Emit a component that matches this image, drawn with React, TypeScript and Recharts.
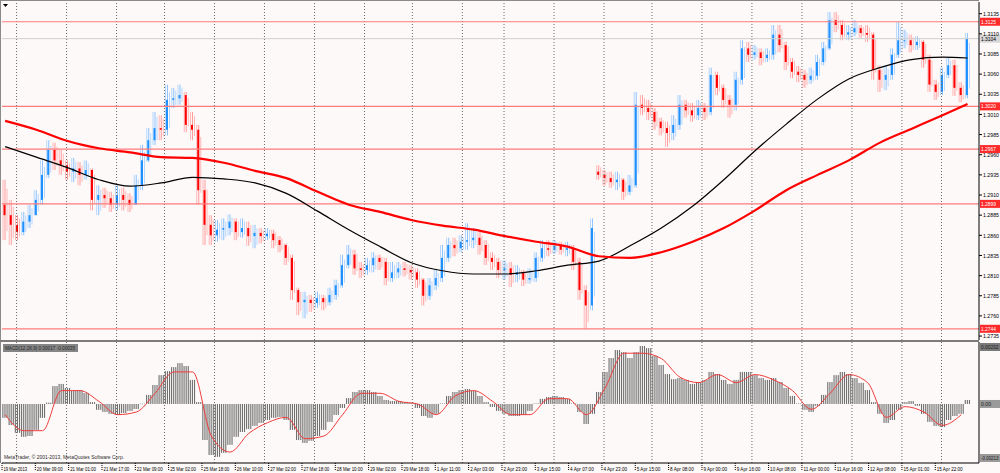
import React from 'react';
import { ComposedChart, Bar, Line, XAxis, YAxis, ReferenceLine } from 'recharts';

const PLOT_RIGHT = 979;
const BG = '#fdf9f8';
const FONT = '"Liberation Sans", Arial, sans-serif';

// x-axis labels, one every 16 hourly bars
const xLabels = [
  '19 Mar 2013', '20 Mar 09:00', '21 Mar 01:00', '21 Mar 17:00', '22 Mar 09:00', '25 Mar 02:00',
  '25 Mar 18:00', '26 Mar 10:00', '27 Mar 02:00', '27 Mar 18:00', '28 Mar 10:00', '29 Mar 02:00',
  '29 Mar 18:00', '1 Apr 11:00', '2 Apr 03:00', '2 Apr 23:00', '3 Apr 15:00', '4 Apr 07:00',
  '4 Apr 23:00', '5 Apr 15:00', '8 Apr 08:00', '9 Apr 00:00', '9 Apr 16:00', '10 Apr 08:00',
  '11 Apr 00:00', '11 Apr 16:00', '12 Apr 08:00', '15 Apr 01:00', '15 Apr 22:00',
];

// day separators (hour index)
const gridHours = [7, 31, 55, 78, 102, 126, 150, 174, 197, 221, 241, 265, 289, 312, 336, 360, 384, 408, 432, 451];

const priceTicks = [
  1.2735, 1.276, 1.2785, 1.281, 1.2835, 1.286, 1.2885, 1.291, 1.2935,
  1.296, 1.2985, 1.301, 1.3035, 1.306, 1.3085, 1.311, 1.3135,
];
const levels = [1.3125, 1.302, 1.2967, 1.2899, 1.2744];
const bidPrice = 1.3104;

// candles (each one stands for 3 hourly bars)
const firstOpen = 1.2898;
const gapOpens: Record<number, number> = { 95: 1.2939 };
const closes = [
  1.2885, 1.2873, 1.2864, 1.2877, 1.2885, 1.2904, 1.2935, 1.2966, 1.2953, 1.2947,
  1.2939, 1.2943, 1.2935, 1.2941, 1.2904, 1.2910, 1.2906, 1.2898, 1.2910, 1.2904,
  1.2898, 1.2922, 1.2953, 1.2978, 1.2993, 1.2991, 1.3028, 1.3030, 1.3034, 1.2997,
  1.2991, 1.2916, 1.2873, 1.2860, 1.2867, 1.2869, 1.2877, 1.2864, 1.2869, 1.2859,
  1.2863, 1.2859, 1.2862, 1.2854, 1.2848, 1.2832, 1.2792, 1.2777, 1.2780, 1.2776,
  1.2782, 1.2777, 1.2786, 1.2798, 1.2823, 1.2836, 1.2819, 1.2817, 1.2823, 1.2832,
  1.2827, 1.2807, 1.2814, 1.2819, 1.2817, 1.2814, 1.2805, 1.2785, 1.2798, 1.2807,
  1.2832, 1.2848, 1.2844, 1.2852, 1.2854, 1.2857, 1.2848, 1.2832, 1.2827, 1.2817,
  1.2819, 1.2811, 1.2814, 1.2805, 1.2807, 1.2832, 1.2844, 1.2842, 1.2847, 1.2842,
  1.2844, 1.2827, 1.2792, 1.2773, 1.2869, 1.2935, 1.2931, 1.2926, 1.2929, 1.2914,
  1.2922, 1.3022, 1.3018, 1.3013, 1.3001, 1.2993, 1.2987, 1.2997, 1.3022, 1.3015,
  1.3009, 1.3018, 1.3013, 1.3059, 1.3043, 1.3028, 1.3022, 1.3053, 1.3092, 1.3084,
  1.3087, 1.3080, 1.3084, 1.3109, 1.3096, 1.3075, 1.3063, 1.3059, 1.3053, 1.3058,
  1.3075, 1.3092, 1.3127, 1.3121, 1.3109, 1.3112, 1.3117, 1.3111, 1.3109, 1.3065,
  1.3053, 1.3059, 1.3084, 1.3102, 1.3102, 1.3096, 1.3100, 1.3078, 1.3047, 1.3038,
  1.3059, 1.3071, 1.3043, 1.3034, 1.3104,
];
const highs = [
  1.2929, 1.2904, 1.2885, 1.2889, 1.2898, 1.2916, 1.2953, 1.2978, 1.2975, 1.2966,
  1.2953, 1.2956, 1.2951, 1.2953, 1.2943, 1.2922, 1.2919, 1.2914, 1.2922, 1.2919,
  1.2912, 1.2935, 1.2972, 1.2993, 1.3013, 1.3009, 1.3047, 1.3043, 1.3047, 1.3038,
  1.3013, 1.2997, 1.2929, 1.2885, 1.2879, 1.2881, 1.2886, 1.2881, 1.2881, 1.2877,
  1.2873, 1.2869, 1.2869, 1.2867, 1.2859, 1.2850, 1.2836, 1.2795, 1.2790, 1.2786,
  1.2790, 1.2786, 1.2795, 1.2805, 1.2836, 1.2848, 1.2842, 1.2827, 1.2832, 1.2839,
  1.2836, 1.2832, 1.2827, 1.2827, 1.2827, 1.2823, 1.2819, 1.2807, 1.2807, 1.2817,
  1.2848, 1.2857, 1.2857, 1.2860, 1.2875, 1.2869, 1.2864, 1.2854, 1.2839, 1.2832,
  1.2829, 1.2827, 1.2823, 1.2817, 1.2819, 1.2839, 1.2854, 1.2854, 1.2854, 1.2852,
  1.2852, 1.2848, 1.2832, 1.2798, 1.2881, 1.2947, 1.2941, 1.2939, 1.2939, 1.2931,
  1.2935, 1.3038, 1.3034, 1.3028, 1.3018, 1.3006, 1.3001, 1.3009, 1.3034, 1.3028,
  1.3024, 1.3028, 1.3024, 1.3068, 1.3063, 1.3047, 1.3034, 1.3063, 1.3102, 1.3100,
  1.3096, 1.3092, 1.3092, 1.3121, 1.3121, 1.3100, 1.3080, 1.3070, 1.3065, 1.3068,
  1.3084, 1.3100, 1.3137, 1.3137, 1.3127, 1.3121, 1.3127, 1.3121, 1.3121, 1.3112,
  1.3071, 1.3071, 1.3092, 1.3125, 1.3115, 1.3109, 1.3107, 1.3102, 1.3084, 1.3053,
  1.3068, 1.3080, 1.3078, 1.3050, 1.3111,
];
const lows = [
  1.2854, 1.2848, 1.2854, 1.2860, 1.2869, 1.2885, 1.2898, 1.2931, 1.2941, 1.2935,
  1.2929, 1.2926, 1.2922, 1.2929, 1.2891, 1.2885, 1.2894, 1.2889, 1.2891, 1.2891,
  1.2889, 1.2898, 1.2916, 1.2951, 1.2972, 1.2978, 1.2984, 1.3018, 1.3022, 1.2988,
  1.2978, 1.2898, 1.2848, 1.2848, 1.2852, 1.2854, 1.2860, 1.2854, 1.2857, 1.2847,
  1.2844, 1.2850, 1.2854, 1.2844, 1.2839, 1.2823, 1.2780, 1.2761, 1.2757, 1.2765,
  1.2770, 1.2767, 1.2773, 1.2780, 1.2795, 1.2819, 1.2811, 1.2807, 1.2811, 1.2814,
  1.2817, 1.2798, 1.2802, 1.2807, 1.2809, 1.2805, 1.2795, 1.2773, 1.2780, 1.2792,
  1.2802, 1.2827, 1.2834, 1.2839, 1.2842, 1.2844, 1.2836, 1.2823, 1.2817, 1.2807,
  1.2805, 1.2796, 1.2802, 1.2797, 1.2800, 1.2802, 1.2827, 1.2834, 1.2837, 1.2836,
  1.2834, 1.2817, 1.2780, 1.2744, 1.2767, 1.2929, 1.2922, 1.2919, 1.2916, 1.2904,
  1.2910, 1.2919, 1.3009, 1.3003, 1.2991, 1.2984, 1.2970, 1.2978, 1.2991, 1.3006,
  1.3001, 1.3003, 1.3003, 1.3009, 1.3034, 1.3018, 1.3006, 1.3015, 1.3047, 1.3075,
  1.3078, 1.3071, 1.3075, 1.3078, 1.3087, 1.3065, 1.3055, 1.3050, 1.3043, 1.3048,
  1.3053, 1.3071, 1.3090, 1.3112, 1.3102, 1.3102, 1.3107, 1.3105, 1.3100, 1.3053,
  1.3038, 1.3040, 1.3053, 1.3080, 1.3092, 1.3087, 1.3090, 1.3068, 1.3038, 1.3028,
  1.3034, 1.3055, 1.3033, 1.3025, 1.3030,
];

// moving averages, sampled every 5 candles (last one at the final candle)
const maBlack = [
  1.2970, 1.2957, 1.2944, 1.2929, 1.2921, 1.2925, 1.2932, 1.2930, 1.2925, 1.2912,
  1.2890, 1.2867, 1.2846, 1.2826, 1.2816, 1.2812, 1.2812, 1.2816, 1.2823, 1.2828,
  1.2847, 1.2869, 1.2896, 1.2929, 1.2965, 1.2998, 1.3029, 1.3054, 1.3068, 1.3078,
  1.3081, 1.3080,
];
const maRed = [
  1.3002, 1.2991, 1.2977, 1.2968, 1.2963, 1.2957, 1.2956, 1.2950, 1.2940, 1.2931,
  1.2914, 1.2898, 1.2889, 1.2879, 1.2872, 1.2867, 1.2859, 1.2852, 1.2846, 1.2834,
  1.2832, 1.2839, 1.2852, 1.2869, 1.2891, 1.2916, 1.2935, 1.2953, 1.2975, 1.2992,
  1.3009, 1.3023,
];

// MACD histogram, one per candle
const macdHist = [
  -0.00052, -0.00079, -0.00108, -0.00123, -0.0012, -0.00097, -0.00052, 0.00005, 0.00067, 0.00075,
  0.0006, 0.00049, 0.00052, 0.00041, 0.00007, -0.00022, -0.0003, -0.00037, -0.00041, -0.00034,
  -0.00026, -0.00019, 0.00001, 0.00034, 0.00071, 0.00108, 0.00123, 0.00138, 0.00153, 0.00142,
  0.0009, 0.00007, -0.00135, -0.00191, -0.00198, -0.00183, -0.00153, -0.00123, -0.00105, -0.00094,
  -0.00082, -0.00071, -0.0006, -0.00052, -0.00049, -0.0006, -0.00097, -0.00135, -0.00146, -0.00138,
  -0.0012, -0.00097, -0.00067, -0.00041, -0.00015, 0.00022, 0.00045, 0.00052, 0.00052, 0.00045,
  0.0003, 0.00015, 0.00011, 0.00011, 0.00007, 0.00004, -0.00015, -0.00045, -0.00052, -0.00037,
  0.00002, 0.0003, 0.00045, 0.00052, 0.00056, 0.00049, 0.0003, 0.00007, -0.00011, -0.00026,
  -0.00037, -0.00045, -0.00045, -0.00041, -0.00026, 0.00002, 0.00019, 0.00026, 0.0003, 0.00026,
  0.00019, 0.00002, -0.0003, -0.00075, -0.00037, 0.00045, 0.0012, 0.00172, 0.00202, 0.00194,
  0.00172, 0.00194, 0.00217, 0.00209, 0.0018, 0.00146, 0.00112, 0.00093, 0.00097, 0.0009,
  0.00075, 0.00082, 0.0009, 0.0012, 0.00112, 0.0009, 0.00075, 0.0009, 0.0012, 0.0012,
  0.00108, 0.00097, 0.0009, 0.00097, 0.00082, 0.0006, 0.0003, 0.00002, -0.00022, -0.0003,
  -0.00007, 0.00034, 0.00082, 0.00108, 0.0012, 0.00112, 0.00097, 0.00079, 0.00052, 0.00007,
  -0.00037, -0.00071, -0.0006, -0.00022, 0.00007, 0.00011, -0.00007, -0.00037, -0.00067, -0.00082,
  -0.00086, -0.0006, -0.00045, -0.00037, 0.00015,
];
// MACD signal, every 3rd candle
const macdSignal = [
  -0.0004, -0.001, -0.001, 0.0005, 0.0005, 0.0001, -0.0004, -0.0003, 0.0004, 0.0012,
  0.0012, -0.0012, -0.0018, -0.0011, -0.0007, -0.0005, -0.0013, -0.0012, -0.0004, 0.0004,
  0.0004, 0.0001, 0.0, -0.0004, 0.0003, 0.0005, 0.0001, -0.0004, -0.0004, 0.0002,
  0.0002, -0.0004, 0.0006, 0.0019, 0.0019, 0.0017, 0.001, 0.0008, 0.0011, 0.0008,
  0.0011, 0.0009, 0.0005, -0.0002, 0.0004, 0.0011, 0.0008, -0.0005, -0.0001, -0.0003,
  -0.0008, -0.0004,
];

const lastIdx = closes.length - 1;
const maPos = maBlack.map((_, k) => Math.min(k * 5, lastIdx));

const rows = closes.map((c, i) => {
  const open = i === 0 ? firstOpen : gapOpens[i] ?? closes[i - 1];
  const m = maPos.indexOf(i);
  return {
    h: i * 3 + 1.5,
    open,
    close: c,
    high: highs[i],
    low: lows[i],
    range: [lows[i], highs[i]],
    maBlack: m >= 0 ? maBlack[m] : null,
    maRed: m >= 0 ? maRed[m] : null,
    macd: macdHist[i],
    signal: i % 3 === 0 ? macdSignal[i / 3] : null,
  };
});

const xTicks = xLabels.map((_, k) => k * 16);

const Candle = (props: any) => {
  const { x, y, width, height, payload } = props;
  if (x == null || y == null) return null;
  const top = Math.min(y, y + height);
  const span = Math.max(Math.abs(height), 1);
  const { open, close, high, low } = payload;
  const up = close >= open;
  const k = Math.abs(height) / (high - low || 1e-9);
  const bTop = top + (high - Math.max(open, close)) * k;
  const bH = Math.max(1, Math.abs(close - open) * k);
  const cx = x + width / 2;
  return (
    <g>
      <rect x={cx - 2.5} y={top} width={1} height={span} fill={up ? '#b4d7ff' : '#ffb8b8'} />
      <rect x={cx - 0.5} y={top} width={1} height={span} fill={up ? '#8cc2ff' : '#ff9a9a'} />
      <rect x={cx + 1.5} y={top + span * 0.15} width={1} height={span * 0.7} fill={up ? '#b4d7ff' : '#ffb8b8'} />
      <rect x={cx - 1.5} y={bTop} width={2} height={bH} fill={up ? '#1e90ff' : '#ff0000'} />
    </g>
  );
};

const Stripes = (props: any) => {
  const { x, y, height } = props;
  if (x == null || y == null) return null;
  const top = Math.min(y, y + height);
  const h = Math.max(Math.abs(height), 0.5);
  return (
    <g>
      {[0.3, 2.4, 4.5].map((d) => (
        <rect key={d} x={x + d} y={top} width={1.1} height={h} fill="#6f6f6f" />
      ))}
    </g>
  );
};

const PriceTick = (props: any) => {
  const { y, payload } = props;
  return (
    <g>
      <line x1={PLOT_RIGHT} x2={PLOT_RIGHT + 3} y1={y} y2={y} stroke="#000" />
      <text x={PLOT_RIGHT + 4} y={y + 2.2} fontSize={6} fontFamily={FONT} fill="#000"
        textLength={16} lengthAdjust="spacingAndGlyphs">
        {payload.value.toFixed(4)}
      </text>
    </g>
  );
};

const TimeTick = (props: any) => {
  const { x, payload } = props;
  const label = xLabels[Math.round(payload.value / 16)] ?? '';
  return (
    <g>
      <line x1={x} x2={x} y1={121} y2={128} stroke="#000" strokeDasharray="1 1" />
      <text x={x + 1.5} y={129} fontSize={6} fontFamily={FONT} fill="#000"
        textLength={label.length * 2.15} lengthAdjust="spacingAndGlyphs">
        {label}
      </text>
    </g>
  );
};

const Tag = (props: any) => {
  const { viewBox, text, fill, color, dy = -4 } = props;
  const y = (viewBox?.y ?? 0) + dy;
  return (
    <g>
      <rect x={PLOT_RIGHT + 1} y={y} width={20} height={8} fill={fill} />
      <text x={PLOT_RIGHT + 2} y={y + 6} fontSize={5.5} fontFamily={FONT} fill={color}
        textLength={Math.min(text.length * 2.5, 17.5)} lengthAdjust="spacingAndGlyphs">
        {text}
      </text>
    </g>
  );
};

export default function App() {
  return (
    <div style={{ position: 'relative', width: 1000, height: 473, background: BG, overflow: 'hidden' }}>
      <style>{'body{margin:0;}'}</style>
      <div style={{ position: 'absolute', left: 0, top: 0 }}>
        <ComposedChart width={1000} height={342} data={rows} margin={{ top: 2, right: 0, bottom: 2, left: 2 }}>
          <XAxis type="number" dataKey="h" domain={[0, 469]} hide allowDataOverflow />
          <YAxis orientation="right" width={21} domain={[1.27301, 1.31495]} allowDataOverflow
            ticks={priceTicks} interval={0} tick={<PriceTick />} tickLine={false}
            axisLine={{ stroke: '#000' }} />
          {gridHours.map((h) => (
            <ReferenceLine key={`g${h}`} x={h} stroke="#6a6a6a" strokeDasharray="1 2" />
          ))}
          <ReferenceLine y={bidPrice} stroke="#cfcfcf"
            label={<Tag text={bidPrice.toFixed(4)} fill="#d6d6d6" color="#000" />} />
          {levels.map((v) => (
            <ReferenceLine key={`l${v}`} y={v} stroke="#ff7d7d" strokeWidth={1.2}
              label={<Tag text={v.toFixed(4)} fill="#ff2a2a" color="#fff" />} />
          ))}
          <Bar dataKey="range" barSize={6} shape={<Candle />} isAnimationActive={false} />
          <Line dataKey="maBlack" type="monotone" stroke="#000" strokeWidth={1.2} dot={false}
            connectNulls isAnimationActive={false} />
          <Line dataKey="maRed" type="monotone" stroke="#ff0000" strokeWidth={2.2} dot={false}
            connectNulls isAnimationActive={false} />
        </ComposedChart>
      </div>
      <div style={{ position: 'absolute', left: 0, top: 342 }}>
        <ComposedChart width={1000} height={131} data={rows} margin={{ top: 0, right: 0, bottom: 0, left: 2 }}>
          <XAxis type="number" dataKey="h" domain={[0, 469]} allowDataOverflow ticks={xTicks}
            interval={0} tick={<TimeTick />} tickLine={false} axisLine={{ stroke: '#000' }} height={10} />
          <YAxis orientation="right" width={21} domain={[-0.00221, 0.00232]} allowDataOverflow
            tick={false} axisLine={{ stroke: '#000' }} />
          {gridHours.map((h) => (
            <ReferenceLine key={`m${h}`} x={h} stroke="#6a6a6a" strokeDasharray="1 2" />
          ))}
          <ReferenceLine y={0.00232} stroke="none"
            label={<Tag text="0.00232" fill="#7a7a7a" color="#1c1c1c" dy={1} />} />
          <ReferenceLine y={0} stroke="none"
            label={<Tag text="0.00" fill="#9a9a9a" color="#1c1c1c" />} />
          <ReferenceLine y={-0.00221} stroke="none"
            label={<Tag text="-0.00213" fill="#9a9a9a" color="#1c1c1c" dy={-9} />} />
          <Bar dataKey="macd" barSize={6} shape={<Stripes />} isAnimationActive={false} />
          <Line dataKey="signal" type="monotone" stroke="#f03c3c" strokeWidth={1} dot={false}
            connectNulls isAnimationActive={false} />
        </ComposedChart>
      </div>
      <svg width={1000} height={473} style={{ position: 'absolute', left: 0, top: 0, pointerEvents: 'none' }}>
        <line x1={0.5} x2={0.5} y1={0} y2={463} stroke="#8a8a8a" />
        <line x1={0} x2={PLOT_RIGHT} y1={0.5} y2={0.5} stroke="#8a8a8a" />
        <rect x={0} y={340} width={PLOT_RIGHT} height={2} fill="#7c7c7c" />
        <polygon points="3,4 8,4 5.5,7" fill="#000" />
        <rect x={3} y={344} width={75} height={8} fill="#858585" />
        <text x={5} y={350.2} fontSize={6} fontFamily={FONT} fill="#2a2a2a"
          textLength={70} lengthAdjust="spacingAndGlyphs">
          MACD(12,26,9) 0.00017 -0.00035
        </text>
        <text x={4} y={459} fontSize={6} fontFamily={FONT} fill="#2a2a2a"
          textLength={120} lengthAdjust="spacingAndGlyphs">
          MetaTrader, © 2001-2013, MetaQuotes Software Corp.
        </text>
      </svg>
    </div>
  );
}
